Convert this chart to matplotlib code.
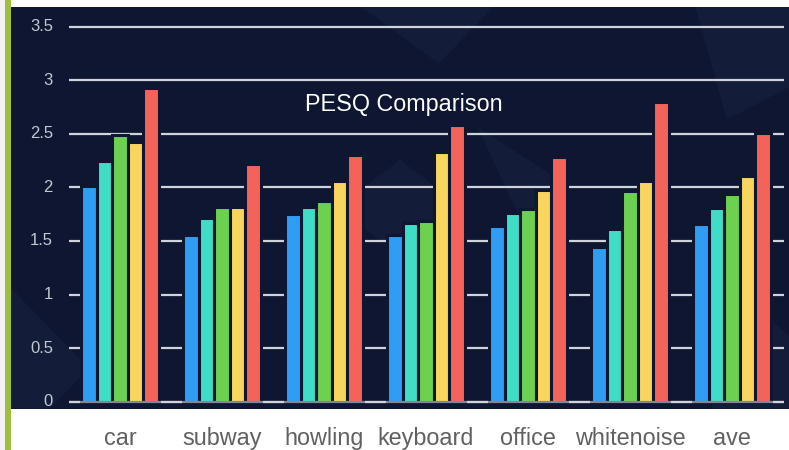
import matplotlib.pyplot as plt
from matplotlib.patches import Polygon, Rectangle
import numpy as np

categories = ["car", "subway", "howling", "keyboard", "office", "whitenoise", "ave"]
series_a = [2.01, 1.56, 1.75, 1.56, 1.64, 1.44, 1.66]   # blue
series_b = [2.25, 1.71, 1.82, 1.67, 1.76, 1.61, 1.81]   # teal
series_c = [2.49, 1.82, 1.87, 1.69, 1.80, 1.97, 1.94]   # green
series_d = [2.42, 1.82, 2.06, 2.33, 1.98, 2.06, 2.11]   # yellow
series_e = [2.93, 2.22, 2.30, 2.58, 2.28, 2.80, 2.51]   # red
y_ticks = [0, 0.5, 1, 1.5, 2, 2.5, 3, 3.5]
y_tick_labels = ["0", "0.5", "1", "1.5", "2", "2.5", "3", "3.5"]
title = "PESQ Comparison"

colors = ["#2f9df2", "#3fdcc6", "#6cd050", "#f8d55c", "#f4635a"]
panel_bg = "#0e1631"

W, H = 789, 450
fig = plt.figure(figsize=(W / 100, H / 100), dpi=100)
fig.patch.set_facecolor("#ffffff")

# light strip + green bar on the left
fig.patches.append(Rectangle((0, 0), 5 / W, 1, transform=fig.transFigure,
                             facecolor="#f3f3f3", edgecolor="none", zorder=0))
fig.patches.append(Rectangle((5 / W, 0), 6 / W, 1, transform=fig.transFigure,
                             facecolor="#9dbf3b", edgecolor="none", zorder=0))

# dark panel, px: x 11..789, y 7..408.5
ax = fig.add_axes([11 / W, (H - 408.5) / H, 778 / W, (408.5 - 7) / H])
ax.set_facecolor(panel_bg)
for s in ax.spines.values():
    s.set_visible(False)
ax.set_xticks([])
ax.set_yticks([])

# group i centred at px 120 + 102*i, value 0 at px 401.7, 107.1 px per unit
ax.set_xlim((11 - 120) / 102, (789 - 120) / 102)
ax.set_ylim(-(408.5 - 401.7) / 107.1, 3.5 + (26.7 - 7) / 107.1)

# faint geometric shapes in the background
shapes = [
    [(0.45, 1.0), (0.62, 1.0), (0.55, 0.86)],
    [(0.88, 1.0), (1.0, 1.0), (1.0, 0.80), (0.92, 0.72)],
    [(0.50, 0.62), (0.58, 0.50), (0.50, 0.38), (0.42, 0.50)],
    [(0.0, 0.30), (0.10, 0.10), (0.05, 0.0), (0.0, 0.0)],
    [(0.93, 0.30), (1.0, 0.18), (1.0, 0.0), (0.90, 0.0)],
    [(0.60, 0.70), (0.72, 0.55), (0.66, 0.45)],
]
for pts in shapes:
    ax.add_patch(Polygon(pts, closed=True, transform=ax.transAxes,
                         facecolor="#1f2948", edgecolor="none", alpha=0.35, zorder=0))

x0 = (69 - 120) / 102
x1 = (784 - 120) / 102
grid_color = "#d0d3da"
for v, lab in zip(y_ticks, y_tick_labels):
    ax.hlines(v, x0, x1, color=grid_color, linewidth=1.6, zorder=1)
    ax.text((53 - 120) / 102, v, lab, ha="right", va="center", fontsize=12,
            color="#c3c7d0", family=["Liberation Sans Narrow", "Liberation Sans"])

x = np.arange(len(categories))
step = 15.6 / 102
series = [series_a, series_b, series_c, series_d, series_e]
for k, (vals, c) in enumerate(zip(series, colors)):
    ax.bar(x + (k - 2) * step, vals, width=step, color=c,
           edgecolor=panel_bg, linewidth=2.2, zorder=2)

# zero line sits over the bar bottoms
ax.hlines(0, x0, x1, color=grid_color, linewidth=1.6, alpha=0.6, zorder=3)

fig.text(404 / W, (H - 110.7) / H, title, ha="center", va="baseline",
         fontsize=16.8, color="white", family=["Liberation Sans", "DejaVu Sans"])

# category labels under the panel
for i, cat in enumerate(categories):
    px = ax.transData.transform((i, 0))[0]
    fig.text(px / W, (H - 445) / H, cat, ha="center", va="baseline",
             fontsize=16.8, color="#606060", family=["Liberation Sans", "DejaVu Sans"])

fig.savefig("out.png", dpi=100, facecolor=fig.get_facecolor())
